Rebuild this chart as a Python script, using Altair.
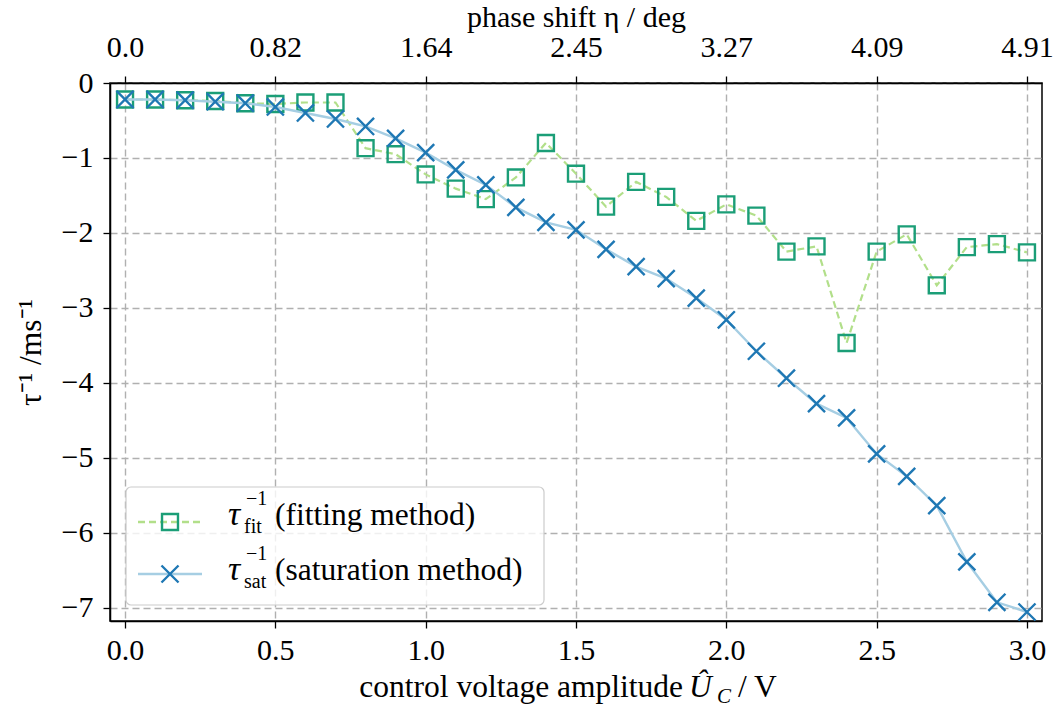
import altair as alt
import pandas as pd

# ---- data ----
voltage = [round(0.1 * i, 1) for i in range(31)]
tau_fit = [-0.22, -0.22, -0.23, -0.24, -0.27, -0.28, -0.26, -0.26, -0.87, -0.95,
           -1.22, -1.41, -1.55, -1.26, -0.80, -1.21, -1.65, -1.32, -1.52, -1.84,
           -1.62, -1.77, -2.25, -2.18, -3.47, -2.25, -2.02, -2.70, -2.19, -2.15,
           -2.26]
tau_sat = [-0.22, -0.22, -0.23, -0.25, -0.27, -0.32, -0.40, -0.48, -0.58, -0.74,
           -0.93, -1.16, -1.36, -1.66, -1.86, -1.96, -2.22, -2.45, -2.61, -2.87,
           -3.16, -3.58, -3.94, -4.28, -4.47, -4.95, -5.25, -5.64, -6.39, -6.93,
           -7.06]
x_ticks = [0.0, 0.5, 1.0, 1.5, 2.0, 2.5, 3.0]
phase_labels = ["0.0", "0.82", "1.64", "2.45", "3.27", "4.09", "4.91"]
y_ticks = [0, -1, -2, -3, -4, -5, -6, -7]
legend_names = ["(fitting method)", "(saturation method)"]
legend_subs = ["fit", "sat"]

df_fit = pd.DataFrame({"u": voltage, "tau": tau_fit})
df_sat = pd.DataFrame({"u": voltage, "tau": tau_sat})

FONT = "Liberation Serif"
FS = 30      # tick labels
FT = 31.5    # titles / legend text
FIT_LINE = "#b2df8a"
FIT_MARK = "#1b9e77"
SAT_LINE = "#a6cee3"
SAT_MARK = "#1f78b4"
XPATH = "M-1,-1L1,1M-1,1L1,-1"
SQ_SIZE = 255
X_SIZE = 290

xscale = alt.Scale(domain=[-0.05, 3.05], nice=False, zero=False)
yscale = alt.Scale(domain=[-7.18, 0], nice=False, zero=False)

yaxis = alt.Axis(values=y_ticks, format="d", title="τ⁻¹ /ms⁻¹",
                 titlePadding=14, labelPadding=10)
xaxis_bottom = alt.Axis(values=x_ticks, format=".1f", orient="bottom",
                        title=None, labelPadding=7)
label_expr = "[" + ",".join("'" + s + "'" for s in phase_labels) + "][round(datum.value*2)]"
xaxis_top = alt.Axis(values=x_ticks, orient="top", grid=False,
                     labelExpr=label_expr, title="phase shift η / deg",
                     titleFontSize=30, titlePadding=0, labelPadding=14)

fit_line = alt.Chart(df_fit).mark_line(
    color=FIT_LINE, strokeWidth=2.2, strokeDash=[7, 4]
).encode(x=alt.X("u:Q", scale=xscale, axis=xaxis_bottom),
         y=alt.Y("tau:Q", scale=yscale, axis=yaxis))

fit_pts = alt.Chart(df_fit).mark_point(
    shape="square", size=SQ_SIZE, filled=False, color=FIT_MARK, strokeWidth=2.4, opacity=1
).encode(x=alt.X("u:Q", scale=xscale, axis=None),
         y=alt.Y("tau:Q", scale=yscale, axis=yaxis))

sat_line = alt.Chart(df_sat).mark_line(
    color=SAT_LINE, strokeWidth=2.4
).encode(x=alt.X("u:Q", scale=xscale, axis=xaxis_top),
         y=alt.Y("tau:Q", scale=yscale, axis=yaxis))

sat_pts = alt.Chart(df_sat).mark_point(
    shape=XPATH, size=X_SIZE, filled=False, color=SAT_MARK, strokeWidth=2.4, opacity=1
).encode(x=alt.X("u:Q", scale=xscale, axis=None),
         y=alt.Y("tau:Q", scale=yscale, axis=yaxis))


def text_layer(txt, x, y, size=FT, align="left", italic=False):
    return alt.Chart(pd.DataFrame({"t": [txt]})).mark_text(
        font=FONT, fontSize=size, align=align, baseline="alphabetic",
        color="black", fontStyle="italic" if italic else "normal"
    ).encode(text="t:N", x=alt.value(x), y=alt.value(y))


# legend
leg_box = alt.Chart(pd.DataFrame({"t": [0]})).mark_rect(
    fill="white", fillOpacity=0.8, stroke="#cccccc", strokeWidth=1.2, cornerRadius=5
).encode(x=alt.value(16), x2=alt.value(434), y=alt.value(404), y2=alt.value(522))

leg_layers = [leg_box]
rows = [(439, FIT_LINE, [7, 4], FIT_MARK, "square", SQ_SIZE),
        (491, SAT_LINE, None, SAT_MARK, XPATH, X_SIZE)]
for i, (yy, lc, dash, mc, shp, sz) in enumerate(rows):
    kw = {"strokeDash": dash} if dash else {}
    leg_layers.append(alt.Chart(pd.DataFrame({"t": [0]})).mark_rule(
        color=lc, strokeWidth=2.3, **kw
    ).encode(x=alt.value(28), x2=alt.value(92), y=alt.value(yy)))
    leg_layers.append(alt.Chart(pd.DataFrame({"t": [0]})).mark_point(
        shape=shp, size=sz, filled=False, color=mc, strokeWidth=2.4, opacity=1
    ).encode(x=alt.value(60), y=alt.value(yy)))
    base = 442 + 55 * i
    leg_layers.append(text_layer("τ", 118, base, 34, italic=True))
    leg_layers.append(text_layer("−1", 136, base - 20, 20))
    leg_layers.append(text_layer(legend_subs[i], 134, base + 8, 20))
    leg_layers.append(text_layer(legend_names[i], 165, base, FT))

# x title with subscript
xtitle = [
    text_layer("control voltage amplitude", 573, 614, FT, align="right"),
    text_layer("Û", 579, 614, FT, italic=True),
    text_layer("C", 607, 620, 21, italic=True),
    text_layer("/ V", 628, 614, FT),
]

chart = alt.layer(
    fit_line, fit_pts, sat_line, sat_pts, *leg_layers, *xtitle
).resolve_axis(x="independent").properties(
    width=932, height=538,
    autosize=alt.AutoSizeParams(type="none"),
    padding={"left": 110, "top": 83, "right": 16, "bottom": 94},
    background="white",
).configure_view(
    stroke="black", strokeWidth=1.5
).configure_axis(
    labelFont=FONT, labelFontSize=FS, labelColor="black",
    titleFont=FONT, titleFontSize=FT, titleFontWeight="normal", titleColor="black",
    domainColor="black", domainWidth=1.5, tickColor="black", tickWidth=1.3,
    tickSize=7, gridColor="#b0b0b0", gridDash=[7, 4], gridWidth=1.4,
)

chart.save("out.html", embed_options={"renderer": "svg", "actions": False})
